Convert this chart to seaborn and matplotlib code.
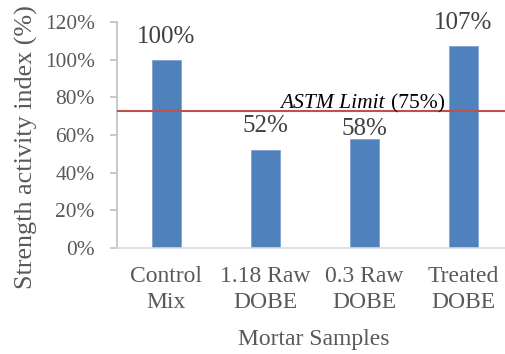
import matplotlib
matplotlib.use("Agg")
import matplotlib.pyplot as plt
import seaborn as sns
import pandas as pd
from matplotlib.ticker import FuncFormatter

categories = ["Control\nMix", "1.18 Raw\nDOBE", "0.3 Raw\nDOBE", "Treated\nDOBE"]
values = [100, 52, 58, 107]
value_labels = ["100%", "52%", "58%", "107%"]
limit_line = 72.7
y_ticks = [0, 20, 40, 60, 80, 100, 120]

sns.set_style("white")
plt.rcParams["font.family"] = ["Liberation Serif", "DejaVu Serif"]

gray = "#595959"
df = pd.DataFrame({"cat": categories, "val": values})

fig = plt.figure(figsize=(5.06, 3.54), dpi=100)
ax = fig.add_axes([0.231, 0.2994, 0.769, 0.6385])
sns.barplot(data=df, x="cat", y="val", color="#4F81BD", width=0.285,
            saturation=1, ax=ax, edgecolor="#7FA3D1", linewidth=0.6)

ax.set_ylim(0, 120)
ax.set_xlim(-0.5, 3.43)
ax.set_yticks(y_ticks)
ax.yaxis.set_major_formatter(FuncFormatter(lambda v, p: f"{int(v)}%"))
ax.tick_params(axis="y", labelsize=15.4, colors="#BFBFBF", labelcolor=gray,
               length=5, width=1.2, pad=11, left=True, direction="out")
ax.tick_params(axis="x", labelsize=17, labelcolor=gray, length=0, pad=13)
for lab in ax.get_xticklabels():
    lab.set_linespacing(1.3)

for s in ["top", "right"]:
    ax.spines[s].set_visible(False)
ax.spines["left"].set_color("#BFBFBF")
ax.spines["left"].set_linewidth(1.2)
ax.spines["bottom"].set_color("#D9D9D9")
ax.spines["bottom"].set_linewidth(1.2)

ax.axhline(limit_line, color="#C0504D", linewidth=1.5, zorder=3)

label_offsets = [12.2, 13, 3, 12.7]
for i, (v, lab, off) in enumerate(zip(values, value_labels, label_offsets)):
    ax.annotate(lab, (i, v), xytext=(0, off), textcoords="offset points",
                ha="center", va="baseline", fontsize=18, color="#404040")

ax.annotate("ASTM Limit", (2.207, limit_line), xytext=(0, 2.2),
            textcoords="offset points", style="italic", ha="right",
            va="baseline", fontsize=15.5, color="black")
ax.annotate("(75%)", (2.265, limit_line), xytext=(0, 2.2),
            textcoords="offset points", ha="left", va="baseline",
            fontsize=15.5, color="black")

ax.set_xlabel("Mortar Samples", fontsize=17, color=gray)
ax.set_ylabel("Strength activity index (%)", fontsize=18.8, color=gray)
ax.xaxis.set_label_coords(0.506, -0.36)
ax.yaxis.set_label_coords(-0.203, 0.447)

fig.savefig("out.png", dpi=100)
